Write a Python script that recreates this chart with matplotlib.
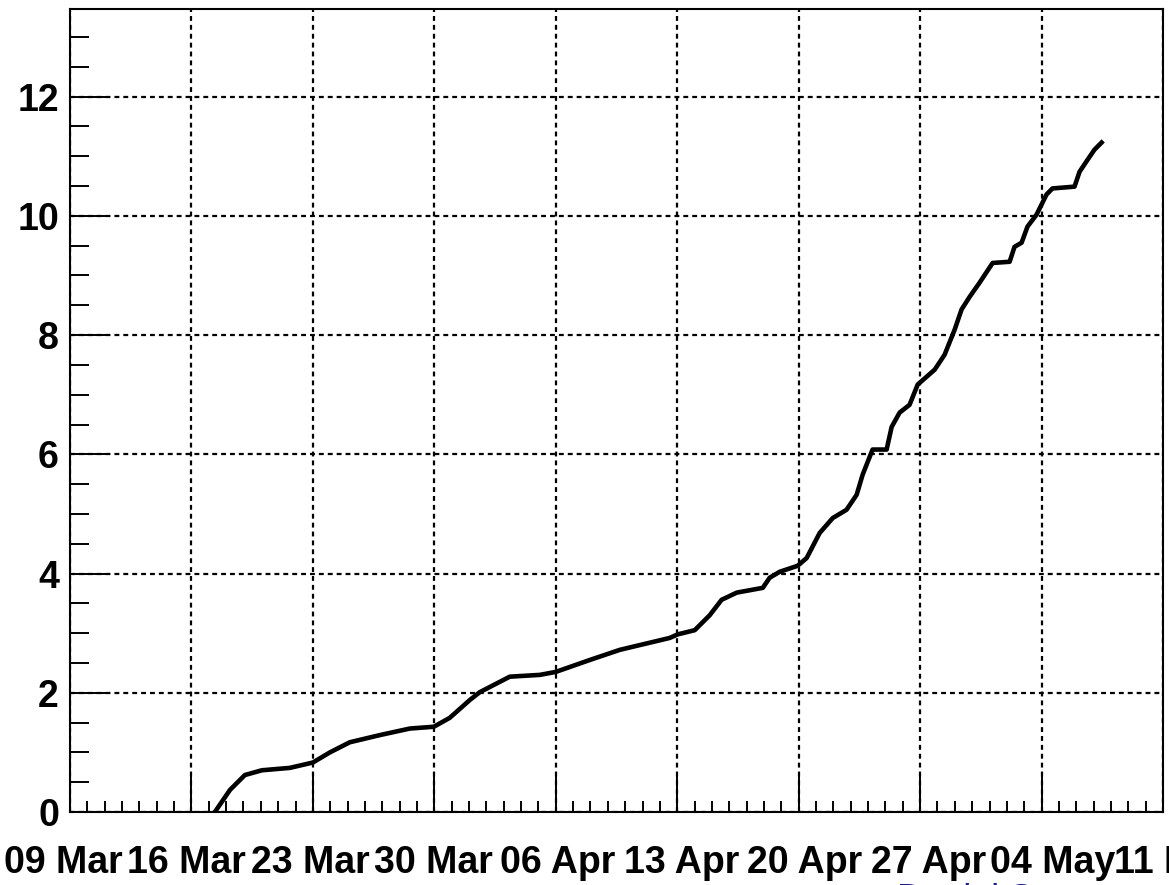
import numpy as np
import matplotlib
matplotlib.use('Agg')
import matplotlib.pyplot as plt
from matplotlib.ticker import MultipleLocator
from matplotlib.transforms import ScaledTranslation

# 数据: 自 3月9日 起的天数, 以及累计值
days = [8.35, 9.22, 10.08, 11.06, 12.67, 14.0, 14.98, 16.13, 17.86, 19.59,
        20.97, 21.89, 23.05, 23.62, 25.35, 27.08, 28.0, 29.96, 31.69, 33.42,
        34.57, 35.03, 36.01, 36.87, 37.56, 38.43, 39.93, 40.33, 40.91, 41.94,
        42.46, 43.21, 43.96, 44.76, 45.34, 45.69, 46.26, 47.07, 47.36, 47.82,
        48.39, 48.86, 49.84, 50.41, 50.99, 51.39, 51.85, 52.43, 53.18, 54.16,
        54.44, 54.85, 55.19, 55.71, 56.29, 56.63, 57.90, 58.19, 58.65, 59.05,
        59.46]
values = [0.0, 0.37, 0.62, 0.70, 0.74, 0.83, 1.0, 1.17, 1.29, 1.40,
          1.43, 1.58, 1.88, 2.01, 2.27, 2.30, 2.35, 2.55, 2.72, 2.84,
          2.92, 2.98, 3.05, 3.3, 3.56, 3.68, 3.76, 3.93, 4.03, 4.13,
          4.26, 4.68, 4.93, 5.07, 5.32, 5.66, 6.08, 6.08, 6.46, 6.70,
          6.83, 7.17, 7.42, 7.67, 8.09, 8.43, 8.64, 8.88, 9.21, 9.23,
          9.48, 9.55, 9.82, 10.02, 10.36, 10.46, 10.49, 10.74, 10.94, 11.11,
          11.23]

week_labels = ["09 Mar", "16 Mar", "23 Mar", "30 Mar", "06 Apr", "13 Apr",
               "20 Apr", "27 Apr", "04 May", "11 May"]
y_ticks = [0, 2, 4, 6, 8, 10, 12]

plt.rcParams['font.family'] = ['Liberation Sans', 'DejaVu Sans']

fig = plt.figure(figsize=(11.69, 8.85), dpi=100)
ax = fig.add_axes([70 / 1169, 73 / 885, 1093 / 1169, 803 / 885])

ax.plot(days, values, color='black', lw=3.3, solid_joinstyle='round', zorder=3)

week_pos = np.arange(len(week_labels)) * 7
ax.set_xlim(week_pos[0], week_pos[-1])
ax.set_ylim(0, 13.47)

ax.set_xticks(week_pos)
ax.set_xticklabels(week_labels)
ax.xaxis.set_minor_locator(MultipleLocator(1))
ax.set_yticks(y_ticks)
ax.yaxis.set_minor_locator(MultipleLocator(0.5))

ax.grid(True, which='major', color='black', lw=1.6, linestyle=(0, (2.2, 1.8)))

ax.tick_params(axis='both', which='both', direction='in', width=1.4,
               labelsize=27)
ax.tick_params(axis='both', which='major', length=26.6)
ax.tick_params(axis='x', which='minor', length=8)
ax.tick_params(axis='y', which='minor', length=14)
ax.tick_params(axis='x', which='major', pad=24)
ax.tick_params(axis='y', which='major', pad=8)
for lab in ax.get_xticklabels() + ax.get_yticklabels():
    lab.set_fontweight('bold')
# 标签相对刻度有少许漂移
for i, lab in enumerate(ax.get_xticklabels()):
    dx = (-7 + 2.2 * i) / 100
    lab.set_transform(lab.get_transform() + ScaledTranslation(dx, 0, fig.dpi_scale_trans))

for sp in ax.spines.values():
    sp.set_linewidth(1.5)

fig.text(897 / 1169, 2 / 885, "Daniel Sc", color='#1a1a9a', fontsize=26,
         va='top', ha='left')

fig.savefig('out.png', dpi=100)
